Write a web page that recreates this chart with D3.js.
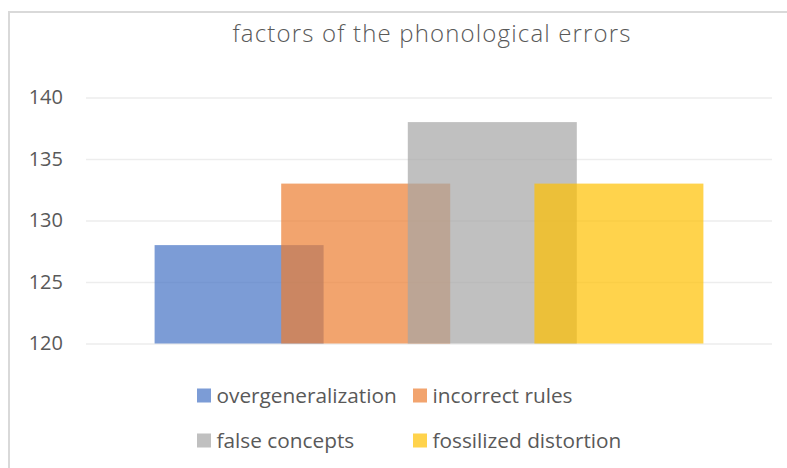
<!DOCTYPE html>
<html>
<head>
<meta charset="utf-8">
<script src="https://cdn.jsdelivr.net/npm/d3@7/dist/d3.min.js"></script>
<style>
  html, body { margin: 0; padding: 0; background: #fff; }
  svg { display: block; font-family: "Open Sans", "Noto Sans", sans-serif; }
</style>
</head>
<body>
<svg id="chart" width="787" height="468"></svg>
<script>
// ---- data ----
const title = "factors of the phonological errors";
const categories = [""];
const seriesNames = ["overgeneralization", "incorrect rules", "false concepts", "fossilized distortion"];
const seriesValues = [128, 133, 138, 133];
const seriesColors = ["#4472C4", "#ED7D31", "#A5A5A5", "#FFC000"];
const yTicks = [120, 125, 130, 135, 140];
const yDomain = [120, 140];

// ---- layout ----
const W = 787, H = 468;
const plot = { left: 86, right: 772, top: 97.5, bottom: 343.5 };
const barW = 169, barStep = 126.6;
const textColor = "#595959";

const svg = d3.select("#chart");

// border (chart area outline, left & top visible)
svg.append("path")
  .attr("d", `M9,${H} L9,12 L${W},12`)
  .attr("fill", "none").attr("stroke", "#D9D9D9").attr("stroke-width", 2);

// title
svg.append("text")
  .attr("x", 431.5).attr("y", 41.5)
  .attr("text-anchor", "middle")
  .attr("fill", textColor)
  .attr("font-size", 24)
  .attr("font-weight", 300)
  .attr("textLength", 398)
  .attr("lengthAdjust", "spacing")
  .text(title);

// scales
const y = d3.scaleLinear().domain(yDomain).range([plot.bottom, plot.top]);
const x0 = d3.scaleBand().domain(categories).range([plot.left, plot.right]).padding(0);
const groupW = barStep * (seriesNames.length - 1) + barW;
const groupStart = x0(categories[0]) + (x0.bandwidth() - groupW) / 2;
const xs = d3.scalePoint().domain(seriesNames)
  .range([groupStart, groupStart + barStep * (seriesNames.length - 1)]);

// grid + y labels
const yAxis = d3.axisLeft(y)
  .tickValues(yTicks)
  .tickSizeInner(-(plot.right - plot.left))
  .tickSizeOuter(0)
  .tickPadding(23)
  .tickFormat(d3.format("d"));
const ga = svg.append("g").attr("transform", `translate(${plot.left},0)`).call(yAxis);
ga.select(".domain").remove();
ga.selectAll(".tick line").attr("stroke", "#EDEDED").attr("stroke-width", 1.5);
ga.selectAll(".tick text")
  .attr("fill", textColor)
  .attr("font-size", 20)
  .attr("font-family", "\"Open Sans\", sans-serif");

// bars
const data = seriesNames.map((s, i) => ({ name: s, value: seriesValues[i], color: seriesColors[i] }));
svg.append("g").selectAll("rect").data(data).join("rect")
  .attr("x", d => xs(d.name))
  .attr("y", d => y(d.value))
  .attr("width", barW)
  .attr("height", d => y(yDomain[0]) - y(d.value))
  .attr("fill", d => d.color)
  .attr("fill-opacity", 0.7);

// legend
const legCols = [197, 413], legRows = [395.5, 440.5];
const lg = svg.append("g").selectAll("g").data(data).join("g")
  .attr("transform", (d, i) => `translate(${legCols[i % 2]},${legRows[Math.floor(i / 2)]})`);
lg.append("rect")
  .attr("x", 0).attr("y", -7).attr("width", 14).attr("height", 14)
  .attr("fill", d => d.color).attr("fill-opacity", 0.7);
lg.append("text")
  .attr("x", 19.5).attr("y", 0).attr("dy", "0.35em")
  .attr("fill", textColor)
  .attr("font-size", 20.8)
  .text(d => d.name);
</script>
</body>
</html>
